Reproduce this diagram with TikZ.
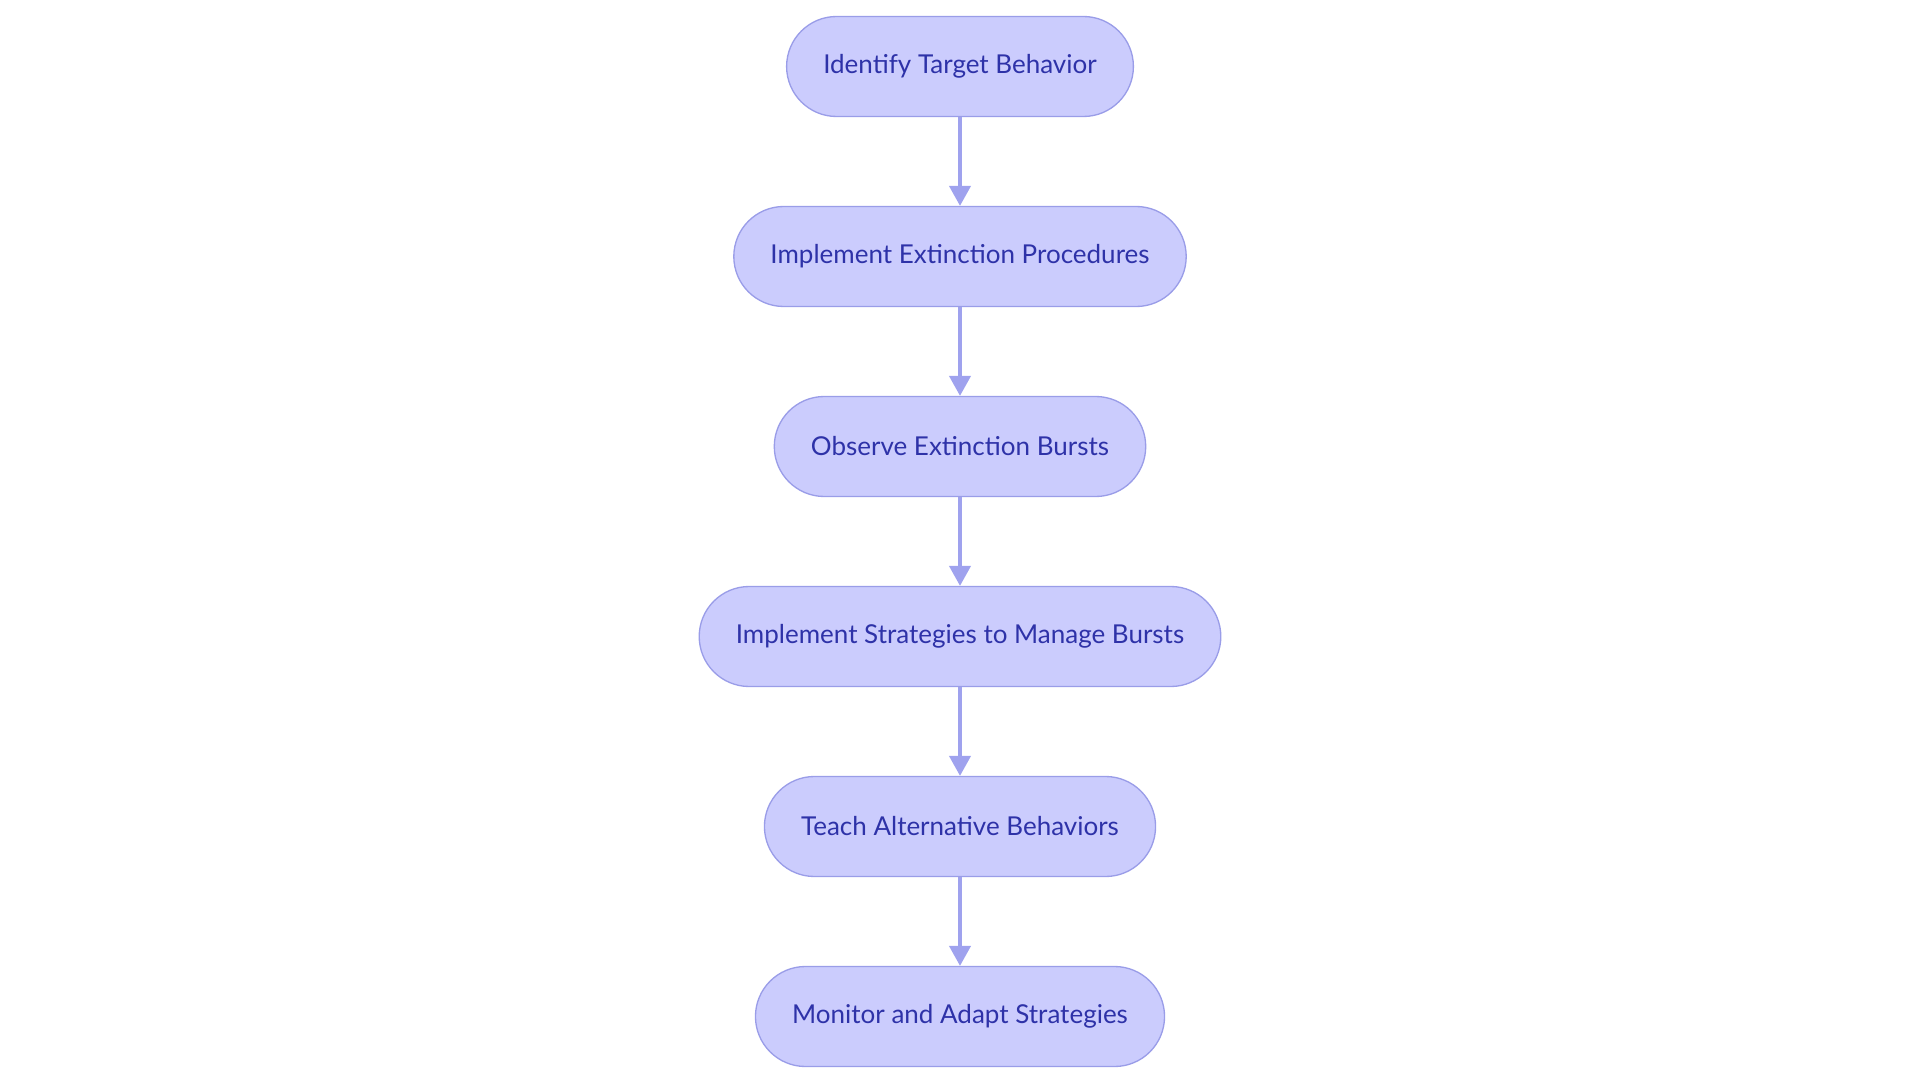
\documentclass[tikz,border=0pt]{standalone}
\usepackage{fontspec}
\setmainfont{Lato}
\usetikzlibrary{positioning,arrows.meta}
\definecolor{stepfill}{HTML}{CBCCFD}
\definecolor{stepline}{HTML}{9A9DE8}
\definecolor{steptext}{HTML}{2E32A8}
\definecolor{flowline}{HTML}{9FA2EE}
\tikzset{
  stepbox/.style={draw=stepline, line width=1pt, fill=stepfill, rounded corners=37.5pt,
    minimum height=75pt, inner xsep=27.5pt, text=steptext,
    font=\fontsize{19.5pt}{23pt}\selectfont},
  flow/.style={draw=flowline, line width=2.4pt, -{Triangle[length=15pt,width=16pt]}}
}
\begin{document}
\begin{tikzpicture}[x=0.75pt, y=-0.75pt, node distance=66.5pt]
  % page frame
  \useasboundingbox (0,0) rectangle (1920,1080);

  % steps
  \node[stepbox] (identify) at (960,66.5) {Identify Target Behavior};
  \node[stepbox, below=of identify] (extinction) {Implement Extinction Procedures};
  \node[stepbox, below=of extinction] (observe) {Observe Extinction Bursts};
  \node[stepbox, below=of observe] (manage) {Implement Strategies to Manage Bursts};
  \node[stepbox, below=of manage] (teach) {Teach Alternative Behaviors};
  \node[stepbox, below=of teach] (monitor) {Monitor and Adapt Strategies};

  % arrows
  \draw[flow] (identify) -- (extinction);
  \draw[flow] (extinction) -- (observe);
  \draw[flow] (observe) -- (manage);
  \draw[flow] (manage) -- (teach);
  \draw[flow] (teach) -- (monitor);
\end{tikzpicture}
\end{document}
